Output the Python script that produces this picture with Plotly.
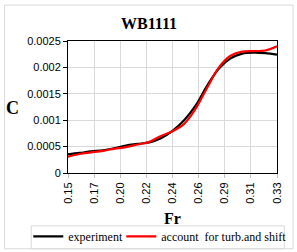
import plotly.graph_objects as go

fr = [0.15, 0.16, 0.17, 0.18, 0.19, 0.20, 0.21, 0.22, 0.23, 0.24,
      0.25, 0.26, 0.27, 0.28, 0.29, 0.30, 0.31, 0.32, 0.33]
experiment = [0.000355, 0.00038, 0.00041, 0.00043, 0.00047, 0.00052, 0.00055, 0.00058,
              0.00066, 0.00080, 0.00100, 0.00128, 0.00166, 0.00198, 0.00217, 0.00226,
              0.00228, 0.00227, 0.00224]
account = [0.00031, 0.00036, 0.00039, 0.00042, 0.00046, 0.00049, 0.00054, 0.00059,
           0.00070, 0.00079, 0.00093, 0.00122, 0.00162, 0.00200, 0.00222, 0.00230,
           0.00231, 0.00232, 0.00240]
x_tick_vals = [0.15, 0.1725, 0.195, 0.2175, 0.24, 0.2625, 0.285, 0.3075, 0.33]
x_tick_text = ["0.15", "0.17", "0.20", "0.22", "0.24", "0.26", "0.29", "0.31", "0.33"]
y_tick_vals = [0, 0.0005, 0.001, 0.0015, 0.002, 0.0025]
y_tick_text = ["0", "0.0005", "0.001", "0.0015", "0.002", "0.0025"]

fig = go.Figure()
fig.add_trace(go.Scatter(x=fr, y=experiment, mode="lines", name="experiment", legend="legend",
                         line=dict(color="black", width=2.2, shape="spline")))
fig.add_trace(go.Scatter(x=fr, y=account, mode="lines", name="account  for turb.and shift",
                         legend="legend2",
                         line=dict(color="#ff0000", width=2.2, shape="spline")))

serif = "Liberation Serif, Times New Roman, serif"
sans = "Liberation Sans, Arial, sans-serif"

leg_common = dict(orientation="h", xanchor="left", y=-0.48, yanchor="middle",
                  font=dict(family=serif, size=12, color="black"),
                  bgcolor="rgba(0,0,0,0)", borderwidth=0, itemwidth=30)

fig.update_layout(
    width=297, height=252,
    margin=dict(l=68, r=20, t=41, b=79, autoexpand=False),
    paper_bgcolor="white", plot_bgcolor="white",
    showlegend=True,
    legend=dict(x=-0.19, **leg_common),
    legend2=dict(x=0.255, **leg_common),
    xaxis=dict(range=[0.15, 0.33], tickvals=x_tick_vals, ticktext=x_tick_text,
               tickangle=-90, tickfont=dict(family=sans, size=11, color="black"),
               showgrid=True, gridcolor="#d9d9d9", gridwidth=1,
               showline=True, linecolor="black", linewidth=1, mirror=True,
               ticks="outside", ticklen=4, tickcolor="#bfbfbf", zeroline=False),
    yaxis=dict(range=[0, 0.0025], tickvals=y_tick_vals, ticktext=y_tick_text,
               tickfont=dict(family=sans, size=11, color="black"),
               showgrid=True, gridcolor="#d9d9d9", gridwidth=1,
               showline=True, linecolor="black", linewidth=1, mirror=True,
               ticks="outside", ticklen=4, tickcolor="black", zeroline=False),
    annotations=[
        dict(text="<b>WB1111</b>", x=0.387, y=1.136, xref="paper", yref="paper",
             xanchor="center", yanchor="middle",
             showarrow=False, font=dict(family=serif, size=16, color="black")),
        dict(text="<b>C</b>", x=-0.265, y=0.491, xref="paper", yref="paper",
             xanchor="center", yanchor="middle",
             showarrow=False, font=dict(family=serif, size=18, color="black")),
        dict(text="<b>Fr</b>", x=0.502, y=-0.342, xref="paper", yref="paper",
             xanchor="center", yanchor="middle",
             showarrow=False, font=dict(family=serif, size=16, color="black")),
    ],
    shapes=[
        dict(type="rect", xref="paper", yref="paper", x0=-0.304, x1=1.077, y0=-0.574, y1=1.272,
             line=dict(color="#d9d9d9", width=1)),
        dict(type="rect", xref="paper", yref="paper", x0=-0.176, x1=1.035, y0=-0.574, y1=-0.4006,
             line=dict(color="#d9d9d9", width=1)),
    ],
)

fig.write_html("out.html", config={"displayModeBar": False},
               post_script="document.body.style.margin='0px';document.body.style.overflow='hidden';")
